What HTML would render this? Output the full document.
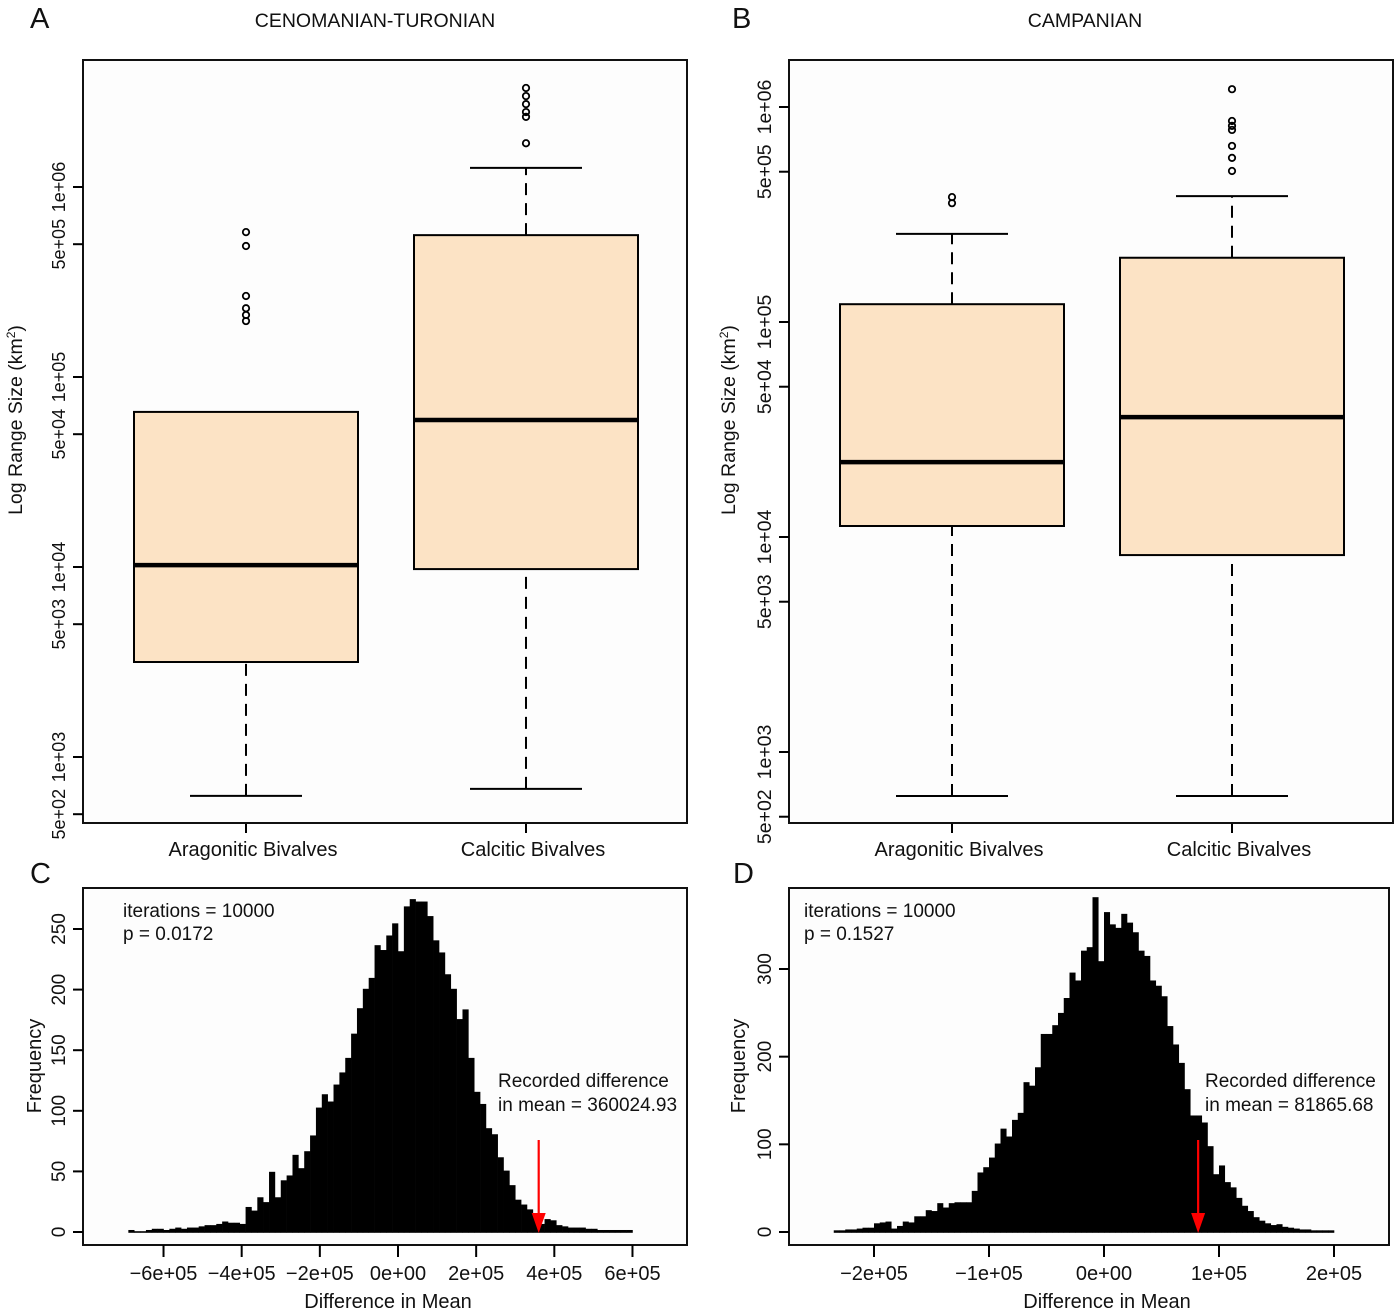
<!DOCTYPE html>
<html><head><meta charset="utf-8"><style>
html,body{margin:0;padding:0;background:#fff;}
svg{display:block;font-family:"Liberation Sans",Arial,sans-serif;}
</style></head><body>
<svg id="fig" width="1400" height="1314" viewBox="0 0 1400 1314" xmlns="http://www.w3.org/2000/svg"></svg>
<script>
// ---------- DATA ----------
const boxCategories = ["Aragonitic Bivalves", "Calcitic Bivalves"];
// [lowWhisker, q1, median, q3, highWhisker]
const statsA = [[624, 3162, 10230, 65500, 65500], [680, 9750, 59400, 558000, 1260000]];
const outliersA = [[579000, 489000, 267000, 230000, 212000, 197000], [3320000, 3010000, 2730000, 2480000, 2340000, 1700000]];
const statsB = [[624, 11250, 22300, 121000, 257000], [624, 8240, 36100, 199000, 385000]];
const outliersB = [[381000, 357000], [1210000, 861000, 817000, 782000, 659000, 580000, 504000]];
const logTicks = [500, 1000, 5000, 10000, 50000, 100000, 500000, 1000000];
const logTickLabels = ["5e+02", "1e+03", "5e+03", "1e+04", "5e+04", "1e+05", "5e+05", "1e+06"];

const histStartC = -690000, histWidthC = 15000;
const countsC = [1,0,0,1,2,2,1,2,3,2,3,3,4,5,5,6,8,7,7,6,
 20,17,28,24,49,28,42,46,63,52,66,79,102,113,107,121,131,143,163,184,200,209,236,232,244,254,231,268,274,
 272,272,260,240,230,212,200,175,183,143,115,105,85,80,61,50,38,26,22,18,15,6,10,9,5,4,3,3,3,2,2,1,1,1,1,1,1];
const xTicksC = [-600000,-400000,-200000,0,200000,400000,600000];
const xTickLabelsC = ["\u22126e+05","\u22124e+05","\u22122e+05","0e+00","2e+05","4e+05","6e+05"];
const yTicksC = [0,50,100,150,200,250];
const observedC = 360024.93;

const histStartD = -235000, histWidthD = 5000;
const countsD = [1,1,2,2,3,4,4,9,10,11,3,6,11,10,17,17,24,23,32,27,32,33,33,
 33,46,67,73,84,100,117,108,127,135,170,166,187,225,225,235,249,266,295,286,320,324,381,308,364,
 350,346,362,352,341,320,314,286,280,268,234,213,192,162,132,132,124,97,65,75,56,50,38,29,23,16,12,9,7,8,5,4,3,2,2,1,1,1,1];
const xTicksD = [-200000,-100000,0,100000,200000];
const xTickLabelsD = ["\u22122e+05","\u22121e+05","0e+00","1e+05","2e+05"];
const yTicksD = [0,100,200,300];
const observedD = 81865.68;

// ---------- DRAWING ----------
const NS = "http://www.w3.org/2000/svg";
const svg = document.getElementById("fig");
function mk(tag, parent, attrs){ const e=document.createElementNS(NS,tag); for(const k in attrs) e.setAttribute(k,attrs[k]); (parent||svg).appendChild(e); return e; }
function txt(parent, x, y, s, size, anchor, rot){
  const t = mk("text", parent, {x:x, y:y, "font-size":size, "text-anchor":anchor||"middle", fill:"#111"});
  if(rot) t.setAttribute("transform","rotate(-90 "+x+" "+y+")");
  t.textContent = s; return t;
}

function boxPanel(opts){
  const g = mk("g", svg, {});
  
  
  const L=opts.left, R=opts.right, T=60, B=823;
  const yOf = v => opts.y1e3 - opts.decade*(Math.log10(v)-3);
  const bg = mk("rect", g, {x:L, y:T, width:R-L, height:B-T, fill:"#fdfdfd", stroke:"none"});
  
  
  const centers = opts.centers;
  for(let i=0;i<opts.stats.length;i++){
    const s=opts.stats[i], c=centers[i], hw=112, cw=56;
    const bx = mk("g", g, {});
    
    
    mk("line", bx, {x1:c, x2:c, y1:yOf(s[0]), y2:yOf(s[1]), stroke:"#000", "stroke-width":2, "stroke-dasharray":"12,8"});
    if(s[4]>s[3]) mk("line", bx, {x1:c, x2:c, y1:yOf(s[3]), y2:yOf(s[4]), stroke:"#000", "stroke-width":2, "stroke-dasharray":"12,8"});
    mk("line", bx, {x1:c-cw, x2:c+cw, y1:yOf(s[0]), y2:yOf(s[0]), stroke:"#000", "stroke-width":2});
    if(s[4]>s[3]) mk("line", bx, {x1:c-cw, x2:c+cw, y1:yOf(s[4]), y2:yOf(s[4]), stroke:"#000", "stroke-width":2});
    mk("rect", bx, {x:c-hw, y:yOf(s[3]), width:2*hw, height:yOf(s[1])-yOf(s[3]), fill:"#fce3c5", stroke:"#000", "stroke-width":2});
    mk("line", bx, {x1:c-hw, x2:c+hw, y1:yOf(s[2]), y2:yOf(s[2]), stroke:"#000", "stroke-width":4.5});
    for(const o of opts.outliers[i]){
      const p = mk("circle", bx, {cx:c, cy:yOf(o), r:3.2, fill:"none", stroke:"#000", "stroke-width":1.8});
      
      
    }
    mk("line", g, {x1:c, x2:c, y1:B, y2:B+10, stroke:"#000", "stroke-width":2});
    const lab = txt(g, c+7, 856, boxCategories[i], 20);
    
    
  }
  mk("rect", g, {x:L, y:T, width:R-L, height:B-T, fill:"none", stroke:"#111", "stroke-width":2});
  logTicks.forEach((v,k)=>{
    const y=yOf(v);
    mk("line", g, {x1:L-10, x2:L, y1:y, y2:y, stroke:"#000", "stroke-width":2});
    const t = txt(g, L-18, y, logTickLabels[k], opts.tickSize, "middle", true);
    
    
  });
  const yl = txt(g, opts.ylabX, 420, "", 19.5, "middle", true);
  
  
  const ts1 = mk("tspan", yl, {}); ts1.textContent = "Log Range Size (km";
  const ts2 = mk("tspan", yl, {dy:-7, "font-size":12}); ts2.textContent = "2";
  const ts3 = mk("tspan", yl, {dy:7}); ts3.textContent = ")";
  const tt = txt(g, opts.titleX, 27, opts.title, 19.5);
  
  
  const pl = txt(g, opts.letterX, 28, opts.letter, 29, "start");
  
  
}

function histPanel(opts){
  const g = mk("g", svg, {});
  
  
  const L=opts.left, R=opts.right, T=888, B=1245;
  const xOf = v => opts.x0 + v*opts.xs;
  const yOf = c => 1232 - c*opts.ys;
  const bg = mk("rect", g, {x:L, y:T, width:R-L, height:B-T, fill:"#fdfdfd"});
  
  
  opts.counts.forEach((c,i)=>{
    const a = xOf(opts.start + i*opts.width), b = xOf(opts.start + (i+1)*opts.width);
    const r = mk("rect", g, {x:a, y:yOf(c)-0.8, width:b-a+0.3, height:c*opts.ys+1.6, fill:"#000"});
    
    
  });
  mk("rect", g, {x:L, y:T, width:R-L, height:B-T, fill:"none", stroke:"#111", "stroke-width":2});
  opts.xTicks.forEach((v,k)=>{
    const x=xOf(v);
    mk("line", g, {x1:x, x2:x, y1:B, y2:B+12, stroke:"#000", "stroke-width":2});
    const t = txt(g, x, 1280, opts.xLabels[k], 20);
    
    
  });
  opts.yTicks.forEach(v=>{
    const y=yOf(v);
    mk("line", g, {x1:L-10, x2:L, y1:y, y2:y, stroke:"#000", "stroke-width":2});
    const t = txt(g, L-18, y, String(v), 19, "middle", true);
    
    
  });
  const xt = txt(g, opts.xTitleX, 1308, "Difference in Mean", 20);
  
  
  const yt = txt(g, opts.yTitleX, 1066, "Frequency", 20, "middle", true);
  
  
  const a1 = txt(g, opts.textX, 917, "iterations = 10000", 19, "start");
  
  
  const a2 = txt(g, opts.textX, 940, opts.pText, 19, "start");
  
  
  const r1 = txt(g, opts.recX, 1087, "Recorded difference", 19, "start");
  
  
  const r2 = txt(g, opts.recX, 1111, opts.recText, 19, "start");
  
  
  const ax = xOf(opts.observed);
  const arr = mk("g", g, {});
  
  
  mk("line", arr, {x1:ax, x2:ax, y1:1140, y2:1222, stroke:"#f00", "stroke-width":2.2});
  mk("polygon", arr, {points:(ax-7)+",1213 "+(ax+7)+",1213 "+ax+",1233", fill:"#f00"});
  const pl = txt(g, opts.letterX, 883, opts.letter, 29, "start");
  
  
}

boxPanel({name:"panel-a-boxplot", left:83, right:687, centers:[246,526], y1e3:757, decade:190, tickSize:18,
  stats:statsA, outliers:outliersA, ylabX:22, title:"CENOMANIAN-TURONIAN", titleX:375, letter:"A", letterX:30});
boxPanel({name:"panel-b-boxplot", left:789, right:1393, centers:[952,1232], y1e3:752, decade:215, tickSize:19.5,
  stats:statsB, outliers:outliersB, ylabX:735, title:"CAMPANIAN", titleX:1085, letter:"B", letterX:732});
histPanel({name:"panel-c-histogram", left:83, right:687, x0:398, xs:39.08/100000, ys:303/250,
  start:histStartC, width:histWidthC, counts:countsC, xTicks:xTicksC, xLabels:xTickLabelsC, yTicks:yTicksC,
  observed:observedC, xTitleX:388, yTitleX:41, textX:123, pText:"p = 0.0172", recX:498, recText:"in mean = 360024.93", letter:"C", letterX:30});
histPanel({name:"panel-d-histogram", left:789, right:1389, x0:1104, xs:115/100000, ys:263/300,
  start:histStartD, width:histWidthD, counts:countsD, xTicks:xTicksD, xLabels:xTickLabelsD, yTicks:yTicksD,
  observed:observedD, xTitleX:1107, yTitleX:745, textX:804, pText:"p = 0.1527", recX:1205, recText:"in mean = 81865.68", letter:"D", letterX:733});
</script>
</body></html>
